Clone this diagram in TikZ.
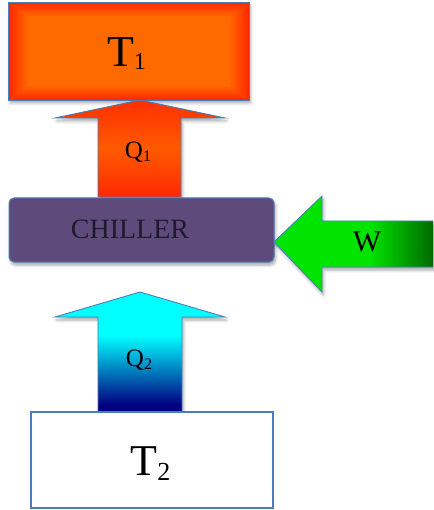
\documentclass[tikz,border=0pt]{standalone}
\usepackage{fontspec}
\setmainfont{Liberation Serif}
\usetikzlibrary{shadows.blur}
\definecolor{tred}{HTML}{FF2A00}
\definecolor{torange}{HTML}{FF6A00}
\definecolor{bord}{HTML}{4A7EBB}
\definecolor{chill}{HTML}{5F4B7B}
\definecolor{wl}{HTML}{00E400}
\definecolor{wd}{HTML}{006A00}
\definecolor{qcyan}{HTML}{00FFFF}
\definecolor{qnavy}{HTML}{000080}
\definecolor{qa}{HTML}{FF3000}
\definecolor{qb}{HTML}{FF5A00}
\definecolor{qc}{HTML}{FF2800}
\definecolor{chtext}{HTML}{1E1A2E}
\pgfdeclarehorizontalshading{wshade}{100bp}{color(0bp)=(wl); color(55bp)=(wl); color(75bp)=(wd); color(100bp)=(wd)}
\pgfdeclareverticalshading{qtwoshade}{100bp}{color(0bp)=(qnavy); color(28bp)=(qnavy); color(57bp)=(qcyan); color(100bp)=(qcyan)}
\pgfdeclareverticalshading{qoneshade}{100bp}{color(0bp)=(qc); color(25bp)=(qc); color(50bp)=(qb); color(75bp)=(qa); color(100bp)=(qa)}
\tikzset{
  softshadow/.style={blur shadow={shadow xshift=1.5pt, shadow yshift=-3pt, shadow blur radius=3pt, shadow opacity=35}},
  boxline/.style={draw=bord, line width=1.2pt},
  blockarrow/.style={draw=bord, line width=0.9pt, line join=miter},
  lab/.style={anchor=base, inner sep=0pt}
}
\begin{document}
\begin{tikzpicture}[x=1pt,y=-1pt]
\useasboundingbox (0,0) rectangle (433,510);
% T1 box
\node[fill=tred, minimum width=240pt, minimum height=97pt, inner sep=0pt, softshadow] (t1) at (129,51.5) {};
\foreach \i in {0,...,20} {
  \pgfmathtruncatemacro\p{\i*5}
  \fill[torange!\p!tred] (9+\i,3+0.7*\i) rectangle (249-\i,100-0.7*\i);
}
\draw[boxline] (t1.north west) rectangle (t1.south east);
\node[lab] (t1lab) at (126.5,66.5) {\fontsize{44}{44}\selectfont T\raisebox{-3pt}{\fontsize{24}{24}\selectfont 1}};
% Q1 arrow
\shade[shading=qoneshade, softshadow] (98,197) -- (98,118) -- (55,118) -- (140,100) -- (225,118) -- (181,118) -- (181,197) -- cycle;
\draw[blockarrow] (98,197) -- (98,118) -- (55,118) -- (140,100) -- (225,118) -- (181,118) -- (181,197) -- cycle;
\node[lab] (q1lab) at (138,159) {\fontsize{25}{25}\selectfont Q\raisebox{-3pt}{\fontsize{16}{16}\selectfont 1}};
% Chiller
\node[boxline, line width=1pt, fill=chill, rounded corners=5pt, minimum width=265pt, minimum height=64pt, inner sep=0pt, softshadow] (ch) at (141.5,230) {};
\node[lab, text=chtext] (chlab) at (130,238) {\fontsize{28}{28}\selectfont CHILLER};
% W arrow
\shade[shading=wshade, softshadow] (433,221) -- (322,221) -- (322,196) -- (274,242) -- (322,292) -- (322,267) -- (433,267) -- cycle;
\draw[blockarrow] (433,221) -- (322,221) -- (322,196) -- (274,242) -- (322,292) -- (322,267) -- (433,267);
\node[lab] (wlab) at (367,251) {\fontsize{30}{30}\selectfont W};
% Q2 arrow
\shade[shading=qtwoshade, softshadow] (98,412) -- (98,317) -- (55,317) -- (140,292) -- (225,317) -- (182,317) -- (182,412) -- cycle;
\draw[blockarrow] (98,412) -- (98,317) -- (55,317) -- (140,292) -- (225,317) -- (182,317) -- (182,412) -- cycle;
\node[lab] (q2lab) at (139,366) {\fontsize{25}{25}\selectfont Q\raisebox{-3pt}{\fontsize{16}{16}\selectfont 2}};
% T2 box
\node[boxline, fill=white, minimum width=242pt, minimum height=96pt, inner sep=0pt] (t2) at (152,460) {};
\node[lab] (t2lab) at (150.5,475) {\fontsize{44}{44}\selectfont T\raisebox{-5pt}{\fontsize{26}{26}\selectfont 2}};
\end{tikzpicture}
\end{document}
